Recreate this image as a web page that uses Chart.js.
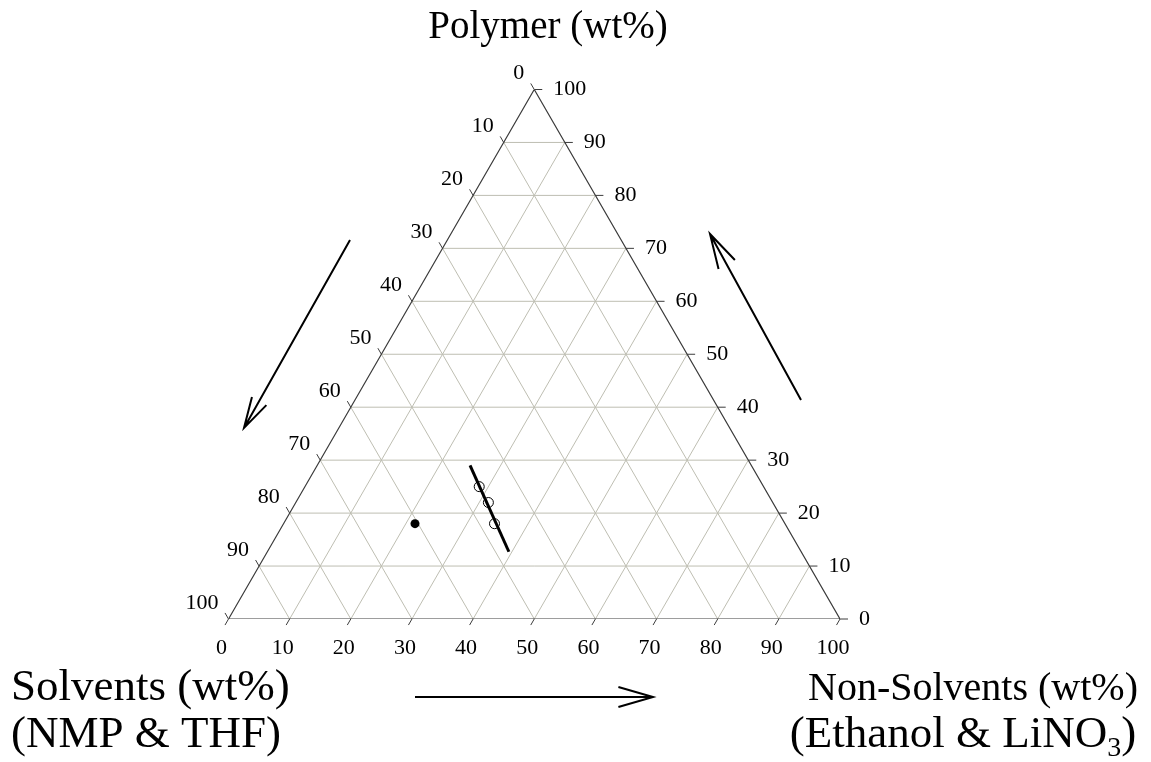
<!DOCTYPE html>
<html>
<head>
<meta charset="utf-8">
<script src="https://cdn.jsdelivr.net/npm/chart.js@4/dist/chart.umd.min.js"></script>
<style>
  html, body { margin: 0; padding: 0; background: #ffffff; }
  #wrap { width: 1151px; height: 762px; position: relative; }
</style>
</head>
<body>
<div id="wrap"><canvas id="ternary"></canvas></div>
<script>
// Ternary axes: polymer (top), solvents (bottom-left), non-solvents (bottom-right), all in wt%
const tickValues = [0, 10, 20, 30, 40, 50, 60, 70, 80, 90, 100];
const gridLevels = [10, 20, 30, 40, 50, 60, 70, 80, 90];

// Casting solution composition (filled dot)
const castPolymer = [18];
const castNonSolvent = [21.5];

// Cloud-point compositions (open circles)
const cloudPolymer = [25, 22, 18];
const cloudNonSolvent = [28.5, 31.5, 34.5];

// Binodal segment through the cloud points
const binodalPolymer = [29, 12.7];
const binodalNonSolvent = [25, 39.5];

const H = Math.sqrt(3) / 2;
// polymer P and non-solvent N (wt%) -> cartesian position in the unit-100 triangle
function toXY(P, N) { return { x: N + P / 2, y: P * H }; }

function segmentsToData(segs) {
  const out = [];
  segs.forEach(([a, b]) => { out.push(a, b, { x: a.x, y: null }); });
  return out;
}

const gridSegs = [];
gridLevels.forEach(k => {
  gridSegs.push([toXY(k, 0), toXY(k, 100 - k)]);          // constant polymer
  gridSegs.push([toXY(0, k), toXY(100 - k, k)]);          // constant non-solvent
  gridSegs.push([toXY(100 - k, 0), toXY(0, 100 - k)]);    // constant solvent
});

const edgeData = [toXY(0, 0), toXY(0, 100), toXY(100, 0), toXY(0, 0)];

const serif = '"Liberation Serif", "Times New Roman", serif';

function drawArrow(ctx, x1, y1, x2, y2, len, angDeg) {
  const a = Math.atan2(y1 - y2, x1 - x2);
  const d = angDeg * Math.PI / 180;
  ctx.beginPath();
  ctx.moveTo(x1, y1); ctx.lineTo(x2, y2);
  ctx.moveTo(x2 + len * Math.cos(a + d), y2 + len * Math.sin(a + d));
  ctx.lineTo(x2, y2);
  ctx.lineTo(x2 + len * Math.cos(a - d), y2 + len * Math.sin(a - d));
  ctx.stroke();
}

const decorations = {
  id: 'ternaryDecor',
  afterDatasetsDraw(chart) {
    const ctx = chart.ctx;
    const xs = chart.scales.x, ys = chart.scales.y;
    const px = p => ({ x: xs.getPixelForValue(p.x), y: ys.getPixelForValue(p.y) });
    ctx.save();
    ctx.strokeStyle = '#3c3c3c';
    ctx.lineWidth = 1;
    ctx.fillStyle = '#000';
    ctx.font = '22px ' + serif;
    const tl = 7;
    tickValues.forEach(v => {
      // left edge: solvent wt%
      const L = px(toXY(100 - v, 0));
      ctx.beginPath(); ctx.moveTo(L.x, L.y); ctx.lineTo(L.x - tl * 0.5, L.y - tl * H); ctx.stroke();
      ctx.textAlign = 'right'; ctx.textBaseline = 'middle';
      ctx.fillText(String(v), L.x - 10, L.y - 16);
      // right edge: polymer wt%
      const R = px(toXY(v, 100 - v));
      ctx.beginPath(); ctx.moveTo(R.x, R.y); ctx.lineTo(R.x + tl + 1, R.y); ctx.stroke();
      ctx.textAlign = 'left';
      ctx.fillText(String(v), R.x + 19, R.y);
      // bottom edge: non-solvent wt%
      const B = px(toXY(0, v));
      ctx.beginPath(); ctx.moveTo(B.x, B.y); ctx.lineTo(B.x - tl * 0.5, B.y + tl * H); ctx.stroke();
      ctx.textAlign = 'center';
      ctx.fillText(String(v), B.x - 7, B.y + 29);
    });

    // direction arrows along each axis
    ctx.strokeStyle = '#000';
    ctx.lineWidth = 2;
    drawArrow(ctx, 350, 240, 244, 428, 32, 15);
    drawArrow(ctx, 801, 400, 710, 234, 36, 15);
    drawArrow(ctx, 415, 697, 653, 697, 36, 16);

    // axis titles
    ctx.fillStyle = '#000';
    ctx.textBaseline = 'alphabetic';
    ctx.textAlign = 'center';
    ctx.font = '39px ' + serif;
    ctx.fillText('Polymer (wt%)', 548, 38);

    ctx.font = '45px ' + serif;
    ctx.textAlign = 'left';
    ctx.fillText('Solvents (wt%)', 11, 700);
    ctx.fillText('(NMP & THF)', 11, 747);

    ctx.textAlign = 'center';
    ctx.font = '40px ' + serif;
    ctx.fillText('Non-Solvents (wt%)', 973, 700);
    // second line with subscript 3
    ctx.font = '45px ' + serif;
    const a = '(Ethanol & LiNO', b = '3', c = ')';
    const wa = ctx.measureText(a).width, wc = ctx.measureText(c).width;
    ctx.font = '28px ' + serif;
    const wb = ctx.measureText(b).width;
    const total = wa + wb + wc;
    const x0 = 963 - total / 2;
    ctx.textAlign = 'left';
    ctx.font = '45px ' + serif;
    ctx.fillText(a, x0, 747);
    ctx.font = '28px ' + serif;
    ctx.fillText(b, x0 + wa, 756);
    ctx.font = '45px ' + serif;
    ctx.fillText(c, x0 + wa + wb, 747);
    ctx.restore();
  }
};

new Chart(document.getElementById('ternary'), {
  type: 'scatter',
  data: {
    datasets: [
      {
        label: 'grid',
        data: segmentsToData(gridSegs),
        showLine: true, spanGaps: false,
        borderColor: 'rgb(190,190,178)', borderWidth: 1,
        pointRadius: 0, order: 5
      },
      {
        label: 'edges',
        data: edgeData,
        showLine: true,
        borderColor: '#3c3c3c', borderWidth: 1.2,
        pointRadius: 0, order: 4
      },
      {
        label: 'binodal',
        data: binodalPolymer.map((p, i) => toXY(p, binodalNonSolvent[i])),
        showLine: true,
        borderColor: '#000', borderWidth: 3,
        pointRadius: 0, order: 3
      },
      {
        label: 'cloud points',
        data: cloudPolymer.map((p, i) => toXY(p, cloudNonSolvent[i])),
        showLine: false,
        pointRadius: 5, pointBorderWidth: 1,
        pointBorderColor: '#000', pointBackgroundColor: 'rgba(255,255,255,0)',
        order: 2
      },
      {
        label: 'casting solution',
        data: castPolymer.map((p, i) => toXY(p, castNonSolvent[i])),
        showLine: false,
        pointRadius: 4.5, pointBorderWidth: 0,
        pointBackgroundColor: '#000',
        order: 1
      }
    ]
  },
  options: {
    responsive: true,
    maintainAspectRatio: false,
    animation: false,
    layout: { padding: { left: 228.5, right: 311, top: 89.5, bottom: 143 } },
    scales: {
      x: { type: 'linear', min: 0, max: 100, display: false },
      y: { type: 'linear', min: 0, max: 100 * H, display: false }
    },
    plugins: { legend: { display: false }, tooltip: { enabled: false } },
    events: []
  },
  plugins: [decorations]
});
</script>
</body>
</html>
